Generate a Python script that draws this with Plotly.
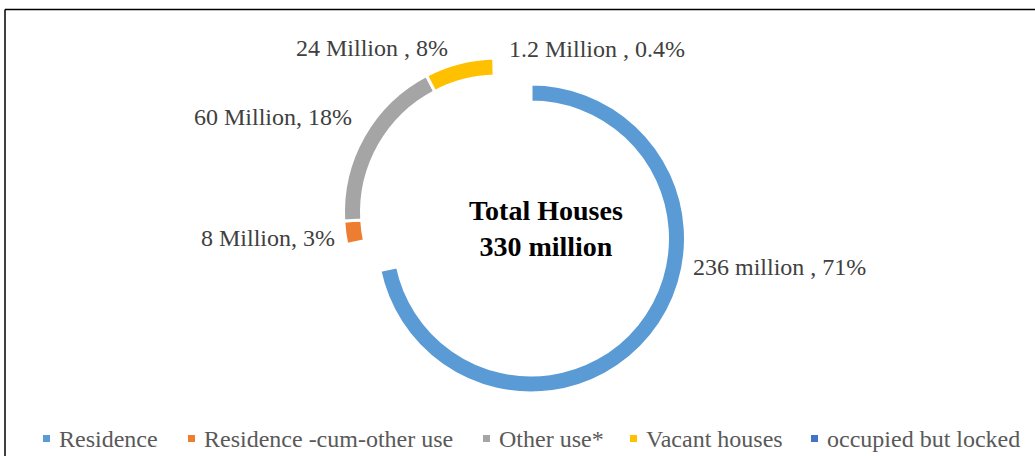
import plotly.graph_objects as go

# Housing stock by use, in millions of houses
categories = ["Residence", "Residence -cum-other use", "Other use*", "Vacant houses", "occupied but locked"]
houses_million = [236, 8, 60, 24, 1.2]
share_pct = [71, 3, 18, 8, 0.4]
label_formats = [
    "{v:g} million , {p:g}%",
    "{v:g} Million, {p:g}%",
    "{v:g} Million, {p:g}%",
    "{v:g} Million , {p:g}%",
    "{v:g} Million , {p:g}%",
]
center_title = "Total Houses"
center_total = "330 million"

colors = ["#5B9BD5", "#ED7D31", "#A5A5A5", "#FFC000", "#4472C4"]
CLEAR = "rgba(0,0,0,0)"

W, H = 1035, 456
SERIF = "Liberation Serif, Times New Roman, serif"


def px_domain(cx, cy, r):
    return dict(x=[(cx - r) / W, (cx + r) / W], y=[1 - (cy + r) / H, 1 - (cy - r) / H])


def px_x(x):
    return x / W


def px_y(y):
    return 1 - y / H


R = 154.5
HOLE = 136.5 / R
GAP = 3
# the thin last slice gets a wider white edge so it reads as a gap
edge_widths = [GAP, GAP, GAP, GAP, 4.5]

fig = go.Figure()

# Ring 1: the residence slice stays in place
keep = [i == 0 for i in range(len(categories))]
# Ring 2: the remaining slices, offset up and to the left
moved = [not k for k in keep]

for mask, (cx, cy) in ((keep, (531, 238.5)), (moved, (498, 212.5))):
    fig.add_trace(go.Pie(
        labels=categories,
        values=houses_million,
        sort=False,
        direction="clockwise",
        rotation=0,
        hole=HOLE,
        textinfo="none",
        hoverinfo="label+value",
        showlegend=False,
        domain=px_domain(cx, cy, R),
        marker=dict(
            colors=[c if m else CLEAR for c, m in zip(colors, mask)],
            line=dict(
                color=["#FFFFFF" if m else CLEAR for m in mask],
                width=[w if m else 0 for w, m in zip(edge_widths, mask)],
            ),
        ),
    ))

annotations = []

# Data labels around the ring (center x, center y in pixels)
label_pos = [(779, 267), (268, 238), (273, 117), (372, 48), (597, 49)]
for fmt, v, p, (lx, ly) in zip(label_formats, houses_million, share_pct, label_pos):
    annotations.append(dict(
        x=px_x(lx), y=px_y(ly), xref="paper", yref="paper",
        text=fmt.format(v=v, p=p), showarrow=False,
        xanchor="center", yanchor="middle",
        font=dict(family=SERIF, size=24, color="#404040"),
    ))

# Total in the middle of the ring
annotations.append(dict(
    x=px_x(546), y=px_y(229), xref="paper", yref="paper",
    text=f"<b>{center_title}<br>{center_total}</b>", showarrow=False,
    xanchor="center", yanchor="middle",
    font=dict(family=SERIF, size=28, color="#000000"),
))

shapes = []

# Legend row along the bottom
legend_x = [43, 188, 483, 630, 811]
legend_y = 438.5
for name, col, lx in zip(categories, colors, legend_x):
    shapes.append(dict(
        type="rect", xref="paper", yref="paper",
        x0=px_x(lx), x1=px_x(lx + 7), y0=px_y(legend_y + 3.5), y1=px_y(legend_y - 3.5),
        fillcolor=col, line=dict(width=0),
    ))
    annotations.append(dict(
        x=px_x(lx + 14), y=px_y(legend_y), xref="paper", yref="paper",
        text=name, showarrow=False, xanchor="left", yanchor="middle",
        font=dict(family=SERIF, size=24, color="#595959"),
    ))

# Frame lines at the top and left edge
shapes.append(dict(type="line", xref="paper", yref="paper",
                   x0=px_x(5), x1=1, y0=px_y(9.5), y1=px_y(9.5),
                   line=dict(color="#000000", width=1.5)))
shapes.append(dict(type="line", xref="paper", yref="paper",
                   x0=px_x(5), x1=px_x(5), y0=px_y(9.5), y1=0,
                   line=dict(color="#000000", width=1.5)))

fig.update_layout(
    width=W, height=H,
    margin=dict(l=0, r=0, t=0, b=0),
    paper_bgcolor="#FFFFFF",
    plot_bgcolor="#FFFFFF",
    annotations=annotations,
    shapes=shapes,
)

fig.write_html("out.html")
